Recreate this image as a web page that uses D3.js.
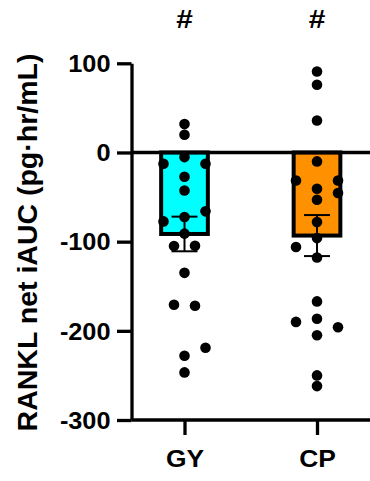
<!DOCTYPE html>
<html>
<head>
<meta charset="utf-8">
<script src="https://cdn.jsdelivr.net/npm/d3@7"></script>
<style>
  html, body { margin: 0; padding: 0; background: #fff; }
  svg { display: block; font-family: "Liberation Sans", Arial, sans-serif; }
</style>
</head>
<body>
<div id="chart"></div>
<script>
// groups and colours
const groups = ['GY', 'CP'];
const barColors = ['#00FFFF', '#FF9000'];
const markers = ['#', '#'];

// individual values
const gyValues = [31.8, 19.8, -5.2, -12.7, -12.7, -27.2, -42.6, -66, -72.4, -77.3,
  -91, -105, -104.6, -135, -170.7, -171.9, -219, -228, -246.6];
const cpValues = [90.8, 75.9, 35.9, -10, -31.4, -31.4, -40.7, -45.5, -53, -78,
  -96, -106, -117.7, -167, -190, -186.4, -196, -205, -250, -262];

// swarm lane of each point (-2 .. 2), as placed in the original
const gyLanes = [0, 0, 0, -2, 2, 0, 0, 2, 0, -2, 0, -1, 1, 0, -1, 1, 2, 0, 0];
const cpLanes = [0, 0, 0, 0, -2, 2, 0, 2, 0, 0, 0, -2, 0, 0, -2, 0, 2, 0, 0, 0];

const yTicks = [100, 0, -100, -200, -300];
const yTitle = 'RANKL net iAUC (pg\u00b7hr/mL)';

const width = 370, height = 481;
const axisX = 131.5;

const svg = d3.select('#chart').append('svg')
  .attr('width', width)
  .attr('height', height);

const y = d3.scaleLinear().domain([-300, 100]).range([420, 63.3]);
const x = d3.scalePoint().domain(groups).range([axisX, 370]).padding(0.4);

const series = [
  { name: 'GY', values: gyValues, lanes: gyLanes },
  { name: 'CP', values: cpValues, lanes: cpLanes }
].map((s, i) => {
  const mean = d3.mean(s.values);
  const sem = d3.deviation(s.values) / Math.sqrt(s.values.length);
  return { ...s, mean, sem, color: barColors[i], mark: markers[i] };
});

const barW = 46.7;
const laneW = 10.5;

// bars
svg.append('g').selectAll('rect')
  .data(series)
  .enter()
  .append('rect')
  .attr('x', d => x(d.name) - barW / 2)
  .attr('y', y(0))
  .attr('width', barW)
  .attr('height', d => y(d.mean) - y(0))
  .attr('fill', d => d.color)
  .attr('stroke', '#000')
  .attr('stroke-width', 4);

// points
series.forEach(s => {
  svg.append('g').selectAll('circle')
    .data(s.values)
    .enter()
    .append('circle')
    .attr('cx', (v, i) => x(s.name) + s.lanes[i] * laneW)
    .attr('cy', v => y(v))
    .attr('r', 5.3)
    .attr('fill', '#000');
});

// error bars (mean +/- SEM)
const eb = svg.append('g').selectAll('g')
  .data(series)
  .enter()
  .append('g')
  .attr('stroke', '#000')
  .attr('stroke-width', 2);
eb.append('line')
  .attr('x1', d => x(d.name)).attr('x2', d => x(d.name))
  .attr('y1', d => y(d.mean + d.sem)).attr('y2', d => y(d.mean - d.sem));
[1, -1].forEach(sgn => {
  eb.append('line')
    .attr('x1', d => x(d.name) - 13).attr('x2', d => x(d.name) + 13)
    .attr('y1', d => y(d.mean + sgn * d.sem)).attr('y2', d => y(d.mean + sgn * d.sem));
});

// zero line
svg.append('line')
  .attr('x1', axisX).attr('x2', width)
  .attr('y1', y(0)).attr('y2', y(0))
  .attr('stroke', '#000').attr('stroke-width', 3.3);

// y axis
const yAxis = svg.append('g')
  .attr('transform', `translate(${axisX},0)`)
  .call(d3.axisLeft(y).tickValues(yTicks).tickFormat(d => String(d))
    .tickSize(14.5).tickSizeOuter(0));
yAxis.select('.domain').attr('stroke-width', 3.3);
yAxis.selectAll('.tick line').attr('stroke-width', 3.3);
yAxis.selectAll('.tick text')
  .attr('x', 0).attr('dy', '0.36em')
  .attr('transform', 'translate(-21,0) scale(1.1,1)')
  .attr('font-size', 23)
  .attr('font-weight', 'bold')
  .attr('font-family', '"Liberation Sans", Arial, sans-serif')
  .attr('fill', '#000');

// x axis
const xAxis = svg.append('g')
  .attr('transform', `translate(0,${y(-300)})`)
  .call(d3.axisBottom(x).tickSize(15).tickSizeOuter(0));
xAxis.select('.domain')
  .attr('d', `M${axisX},0H${width}`)
  .attr('stroke-width', 3.3);
xAxis.selectAll('.tick line').attr('stroke-width', 3.3);
xAxis.selectAll('.tick text')
  .attr('y', 0).attr('dy', null)
  .attr('transform', 'translate(0,47) scale(1.1,1)')
  .attr('font-size', 24)
  .attr('font-weight', 'bold')
  .attr('font-family', '"Liberation Sans", Arial, sans-serif')
  .attr('fill', '#000');

// significance markers
svg.append('g').selectAll('text')
  .data(series)
  .enter()
  .append('text')
  .attr('transform', d => `translate(${x(d.name)},27.5) scale(1.15,1)`)
  .attr('text-anchor', 'middle')
  .attr('font-size', 26)
  .attr('font-weight', 'bold')
  .attr('fill', '#000')
  .text(d => d.mark);

// y title
svg.append('text')
  .attr('transform', `translate(36.5,242.5) rotate(-90)`)
  .attr('text-anchor', 'middle')
  .attr('font-size', 28.5)
  .attr('font-weight', 'bold')
  .attr('fill', '#000')
  .text(yTitle);
</script>
</body>
</html>
